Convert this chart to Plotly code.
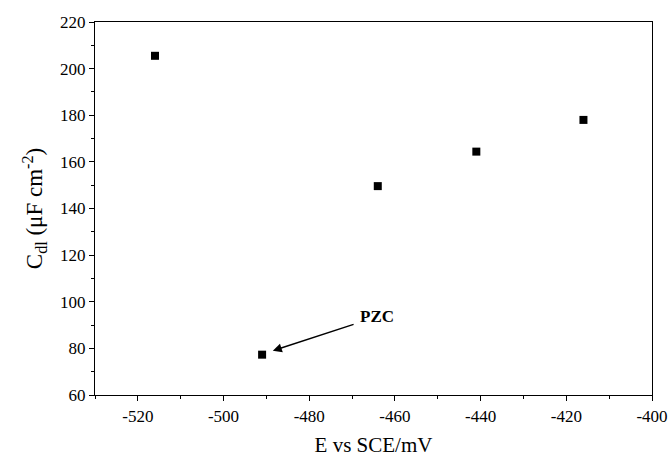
import plotly.graph_objects as go

potential_mV = [-516, -491, -464, -441, -416]
cdl_uF = [205.5, 77.3, 149.6, 164.4, 178.0]
x_ticks = [-520, -500, -480, -460, -440, -420, -400]
y_ticks = [60, 80, 100, 120, 140, 160, 180, 200, 220]

font_family = "Liberation Serif, Times New Roman, serif"

fig = go.Figure()
fig.add_trace(go.Scatter(
    x=potential_mV, y=cdl_uF, mode="markers",
    marker=dict(symbol="square", size=8, color="black"),
    showlegend=False,
))

axis_common = dict(
    showline=True, linecolor="black", linewidth=1.3, mirror=True,
    ticks="outside", ticklen=5, tickwidth=1, tickcolor="black",
    showgrid=False, zeroline=False, automargin=False,
    tickfont=dict(family=font_family, size=17, color="black"),
)

fig.update_xaxes(
    range=[-530, -400], tickvals=x_ticks, ticktext=[str(v) for v in x_ticks],
    minor=dict(ticks="outside", ticklen=3, tickwidth=1, tickcolor="black", dtick=10, showgrid=False),
    title=dict(text="E vs SCE/mV", font=dict(family=font_family, size=21, color="black"), standoff=16),
    **axis_common,
)
fig.update_yaxes(
    range=[60, 220], tickvals=y_ticks, ticktext=[str(v) for v in y_ticks],
    minor=dict(ticks="outside", ticklen=3, tickwidth=1, tickcolor="black", dtick=10, showgrid=False),
    title=dict(text="C<sub>dl</sub> (μF cm<sup>-2</sup>)", font=dict(family=font_family, size=23, color="black"), standoff=10),
    **axis_common,
)

fig.add_annotation(
    x=-488.5, y=79, ax=-469.3, ay=90.5, axref="x", ayref="y", xref="x", yref="y",
    text="", showarrow=True, arrowhead=2, arrowsize=1.2, arrowwidth=1.5,
    arrowcolor="black", standoff=0, startstandoff=0,
)
fig.add_annotation(
    x=-468.6, y=93.5, xref="x", yref="y", text="<b>PZC</b>", showarrow=False,
    xanchor="left", yanchor="middle",
    font=dict(family=font_family, size=17, color="black"),
)

fig.update_layout(
    width=670, height=457,
    margin=dict(l=95, r=18, t=22, b=62),
    paper_bgcolor="white", plot_bgcolor="white",
)

fig.write_html("out.html")
